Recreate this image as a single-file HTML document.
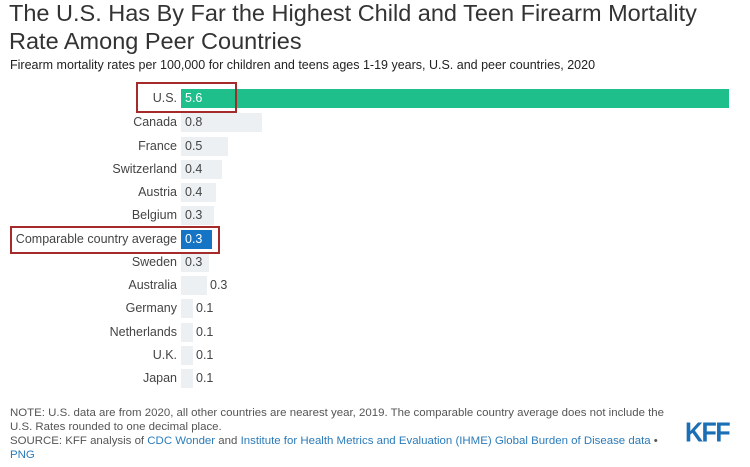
<!DOCTYPE html>
<html><head><style>
body{margin:0;width:750px;height:467px;background:#fff;font-family:"Liberation Sans",sans-serif;position:relative;overflow:hidden}
.t{position:absolute;left:9px;top:-1px;font-size:23.5px;line-height:28px;color:#333;width:745px;white-space:nowrap}
.s{position:absolute;left:10px;top:58px;font-size:12.5px;color:#222}
.row{position:absolute;left:0;height:19px;width:750px}
.lab{position:absolute;right:573px;top:2px;font-size:12.5px;color:#444;white-space:nowrap}
.bar{position:absolute;left:181px;top:0;height:19px;background:#edf0f2}
.v{position:absolute;top:2px;font-size:12.5px;color:#444}
.box{position:absolute;border:2px solid #a52a2a}
.n{position:absolute;left:10px;top:406px;font-size:11.45px;line-height:14px;color:#555;width:700px;white-space:nowrap}
.n a{color:#2b7bb9;text-decoration:none}
.kff{position:absolute;left:685px;top:419px;font-size:25px;font-weight:bold;color:#1a6fb5;letter-spacing:-1.5px;transform:scaleY(1.1)}
</style></head><body>
<div class="t">The U.S. Has By Far the Highest Child and Teen Firearm Mortality<br>Rate Among Peer Countries</div>
<div class="s">Firearm mortality rates per 100,000 for children and teens ages 1-19 years, U.S. and peer countries, 2020</div>

<div class="row" style="top:89px"><span class="lab">U.S.</span><div class="bar" style="width:548px;background:#1ebf8a"></div><span class="v" style="left:185px;color:#fff">5.6</span></div>
<div class="row" style="top:113px"><span class="lab">Canada</span><div class="bar" style="width:81px"></div><span class="v" style="left:185px">0.8</span></div>
<div class="row" style="top:137px"><span class="lab">France</span><div class="bar" style="width:47px"></div><span class="v" style="left:185px">0.5</span></div>
<div class="row" style="top:160px"><span class="lab">Switzerland</span><div class="bar" style="width:41px"></div><span class="v" style="left:185px">0.4</span></div>
<div class="row" style="top:183px"><span class="lab">Austria</span><div class="bar" style="width:35px"></div><span class="v" style="left:185px">0.4</span></div>
<div class="row" style="top:206px"><span class="lab">Belgium</span><div class="bar" style="width:33px"></div><span class="v" style="left:185px">0.3</span></div>
<div class="row" style="top:230px"><span class="lab">Comparable country average</span><div class="bar" style="width:31px;background:#1674c4"></div><span class="v" style="left:185px;color:#fff">0.3</span></div>
<div class="row" style="top:253px"><span class="lab">Sweden</span><div class="bar" style="width:28px"></div><span class="v" style="left:185px">0.3</span></div>
<div class="row" style="top:276px"><span class="lab">Australia</span><div class="bar" style="width:26px"></div><span class="v" style="left:210px">0.3</span></div>
<div class="row" style="top:299px"><span class="lab">Germany</span><div class="bar" style="width:12px"></div><span class="v" style="left:196px">0.1</span></div>
<div class="row" style="top:323px"><span class="lab">Netherlands</span><div class="bar" style="width:12px"></div><span class="v" style="left:196px">0.1</span></div>
<div class="row" style="top:346px"><span class="lab">U.K.</span><div class="bar" style="width:12px"></div><span class="v" style="left:196px">0.1</span></div>
<div class="row" style="top:369px"><span class="lab">Japan</span><div class="bar" style="width:12px"></div><span class="v" style="left:196px">0.1</span></div>

<div class="box" style="left:136px;top:82px;width:97px;height:27px"></div>
<div class="box" style="left:10px;top:226px;width:206px;height:24px"></div>

<div class="n">NOTE: U.S. data are from 2020, all other countries are nearest year, 2019. The comparable country average does not include the<br>U.S. Rates rounded to one decimal place.<br>SOURCE: KFF analysis of <a>CDC Wonder</a> and <a>Institute for Health Metrics and Evaluation (IHME) Global Burden of Disease data</a> •<br><a>PNG</a></div>
<div class="kff">KFF</div>
</body></html>
